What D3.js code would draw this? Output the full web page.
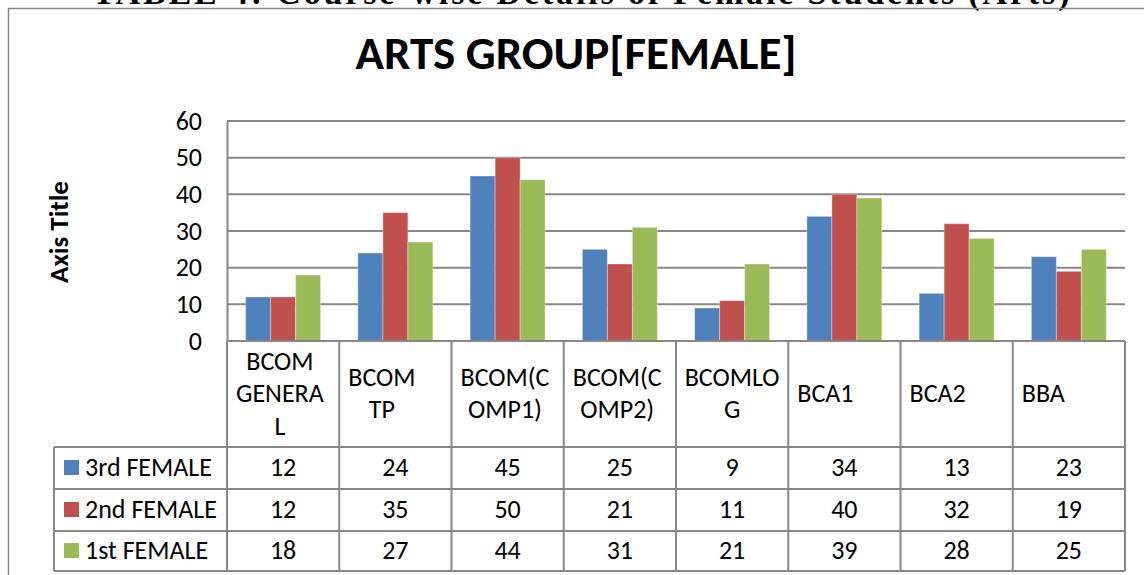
<!DOCTYPE html>
<html>
<head>
<meta charset="utf-8">
<script src="https://cdn.jsdelivr.net/npm/d3@7"></script>
<style>
  body { margin: 0; background: #fff; }
  svg { display: block; }
</style>
</head>
<body>
<div id="chart"></div>
<script>
// data
var categories = ["BCOM GENERAL", "BCOM TP", "BCOM(COMP1)", "BCOM(COMP2)", "BCOMLOG", "BCA1", "BCA2", "BBA"];
var catLines = [["BCOM", "GENERA", "L"], ["BCOM", "TP"], ["BCOM(C", "OMP1)"], ["BCOM(C", "OMP2)"], ["BCOMLO", "G"], ["BCA1"], ["BCA2"], ["BBA"]];
var seriesNames = ["3rd FEMALE", "2nd FEMALE", "1st FEMALE"];
var seriesColors = ["#4F81BD", "#C0504D", "#9BBB59"];
var third = [12, 24, 45, 25, 9, 34, 13, 23];
var second = [12, 35, 50, 21, 11, 40, 32, 19];
var first = [18, 27, 44, 31, 21, 39, 28, 25];
var yTicks = [0, 10, 20, 30, 40, 50, 60];

var seriesValues = [third, second, first];

var W = 1144, H = 575;
var font = "Carlito, Calibri, Lato, sans-serif";
var lineCol = "#878787";
var fs = "26px";

var svg = d3.select("#chart").append("svg")
	.attr("width", W)
	.attr("height", H);

// page title, mostly cut off above the picture (as in the source)
svg.append("text")
	.attr("x", 581)
	.attr("y", 4)
	.attr("text-anchor", "middle")
	.attr("textLength", 977)
	.style("font-family", "'Liberation Serif', serif")
	.style("font-weight", "bold")
	.style("font-size", "34px")
	.text("TABLE 4: Course-wise Details of Female Students (Arts)");

// chart frame
svg.append("rect")
	.attr("x", 8.5).attr("y", 8.5)
	.attr("width", W + 20).attr("height", H + 20)
	.style("fill", "none")
	.style("stroke", lineCol)
	.style("stroke-width", 1.5);

var plotLeft = 227, plotRight = 1125, plotTop = 121, plotBottom = 341;

var x = d3.scaleBand()
	.domain(categories)
	.range([plotLeft, plotRight])
	.paddingInner(0.332)
	.paddingOuter(0.166);

var xs = d3.scaleBand()
	.domain(seriesNames)
	.range([0, x.bandwidth()]);

var y = d3.scaleLinear()
	.domain([0, 60])
	.range([plotBottom, plotTop]);

var step = x.step();
var colX = function(i) { return plotLeft + i * step; };

// title
svg.append("text")
	.attr("x", 576)
	.attr("y", 69)
	.attr("text-anchor", "middle")
	.style("font-family", font)
	.style("font-weight", "bold")
	.style("font-size", "47px")
	.text("ARTS GROUP[FEMALE]");

// axis title
svg.append("text")
	.attr("transform", "translate(68,232) rotate(-90)")
	.attr("text-anchor", "middle")
	.style("font-family", font)
	.style("font-weight", "bold")
	.style("font-size", "27px")
	.text("Axis Title");

// gridlines
svg.append("g").selectAll("line")
	.data(yTicks.filter(function(d) { return d > 0; }))
	.enter().append("line")
	.attr("x1", plotLeft).attr("x2", plotRight)
	.attr("y1", function(d) { return y(d); })
	.attr("y2", function(d) { return y(d); })
	.style("stroke", lineCol)
	.style("stroke-width", 2);

// y axis
var yAxis = d3.axisLeft(y).tickValues(yTicks).tickSize(0).tickPadding(25);
var yg = svg.append("g")
	.attr("transform", "translate(" + plotLeft + ",0)")
	.call(yAxis);
yg.select(".domain").style("stroke", lineCol).style("stroke-width", 2);
yg.selectAll("text")
	.style("font-family", font)
	.style("font-size", fs)
	.style("fill", "#000");

// bars
var groups = svg.append("g").selectAll("g")
	.data(categories)
	.enter().append("g")
	.attr("transform", function(d) { return "translate(" + x(d) + ",0)"; });

groups.selectAll("rect")
	.data(function(d, i) {
		return seriesNames.map(function(s, j) { return { s: s, v: seriesValues[j][i], c: seriesColors[j] }; });
	})
	.enter().append("rect")
	.attr("x", function(d) { return xs(d.s); })
	.attr("width", xs.bandwidth())
	.attr("y", function(d) { return y(d.v); })
	.attr("height", function(d) { return y(0) - y(d.v); })
	.style("fill", function(d) { return d.c; })
	.style("stroke", "rgba(255,255,255,0.35)")
	.style("stroke-width", 1);

// data table
var headerBottom = 447;
var rowBottoms = [489, 531, 571];
var tableLeft = 54;
var tbl = svg.append("g");

// baseline
tbl.append("line")
	.attr("x1", plotLeft).attr("x2", plotRight)
	.attr("y1", plotBottom).attr("y2", plotBottom)
	.style("stroke", lineCol).style("stroke-width", 2);

// horizontal lines
tbl.selectAll("line.h")
	.data([headerBottom].concat(rowBottoms))
	.enter().append("line")
	.attr("class", "h")
	.attr("x1", tableLeft).attr("x2", plotRight)
	.attr("y1", function(d) { return d; })
	.attr("y2", function(d) { return d; })
	.style("stroke", lineCol).style("stroke-width", 2);

// vertical lines
tbl.selectAll("line.v")
	.data(d3.range(categories.length + 1))
	.enter().append("line")
	.attr("class", "v")
	.attr("x1", function(i) { return colX(i); })
	.attr("x2", function(i) { return colX(i); })
	.attr("y1", plotBottom)
	.attr("y2", rowBottoms[2])
	.style("stroke", lineCol).style("stroke-width", 2);

tbl.append("line")
	.attr("x1", tableLeft).attr("x2", tableLeft)
	.attr("y1", headerBottom).attr("y2", rowBottoms[2])
	.style("stroke", lineCol).style("stroke-width", 2);

// category labels, wrapped like the source
var lineH = 32.5;
var headMid = (plotBottom + headerBottom) / 2;
catLines.forEach(function(lines, i) {
	var g = tbl.append("g");
	var texts = g.selectAll("text")
		.data(lines)
		.enter().append("text")
		.attr("y", function(d, k) { return headMid + 8 + (k - (lines.length - 1) / 2) * lineH; })
		.attr("text-anchor", "middle")
		.style("font-family", font)
		.style("font-size", fs)
		.text(function(d) { return d; });
	var maxW = 0;
	texts.each(function() { maxW = Math.max(maxW, this.getComputedTextLength()); });
	var cx = Math.min(colX(i) + 9 + maxW / 2, colX(i) + step / 2);
	texts.attr("x", cx);
});

// rows: legend keys, names, values
var rowTops = [headerBottom].concat(rowBottoms.slice(0, 2));
seriesNames.forEach(function(name, j) {
	var mid = (rowTops[j] + rowBottoms[j]) / 2;
	tbl.append("rect")
		.attr("x", 64).attr("y", mid - 8)
		.attr("width", 15).attr("height", 15)
		.style("fill", seriesColors[j]);
	tbl.append("text")
		.attr("x", 85).attr("y", mid + 8)
		.style("font-family", font)
		.style("font-size", fs)
		.text(name);
	tbl.selectAll("text.v" + j)
		.data(seriesValues[j])
		.enter().append("text")
		.attr("class", "v" + j)
		.attr("x", function(d, i) { return colX(i) + step / 2; })
		.attr("y", mid + 8)
		.attr("text-anchor", "middle")
		.style("font-family", font)
		.style("font-size", fs)
		.text(function(d) { return d; });
});
</script>
</body>
</html>
